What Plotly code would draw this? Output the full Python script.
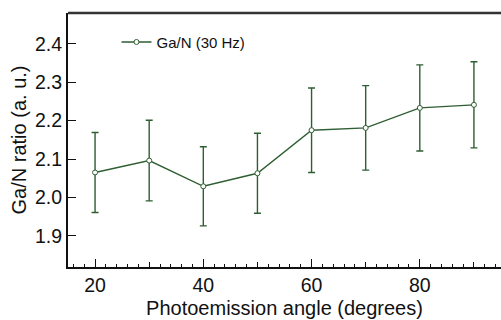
import plotly.graph_objects as go

angles = [20, 30, 40, 50, 60, 70, 80, 90]
ratio = [2.065, 2.096, 2.029, 2.063, 2.175, 2.181, 2.233, 2.241]
err = [0.104, 0.105, 0.103, 0.104, 0.110, 0.110, 0.112, 0.112]
series_name = "Ga/N (30 Hz)"
x_title = "Photoemission angle (degrees)"
y_title = "Ga/N ratio (a. u.)"
x_label_vals = [20, 40, 60, 80]
x_mid_vals = [30, 50, 70, 90]
y_tick_vals = [1.9, 2.0, 2.1, 2.2, 2.3, 2.4]

green = "#2e5e32"
font_family = "Liberation Sans, Arial, sans-serif"

fig = go.Figure()
fig.add_trace(go.Scatter(
    x=angles, y=ratio, name=series_name, mode="lines+markers",
    line=dict(color=green, width=1.4),
    marker=dict(symbol="circle", size=5, color="white", line=dict(color=green, width=1)),
    error_y=dict(type="data", array=err, visible=True, color=green, thickness=1.4, width=3.5),
))

fig.update_layout(
    width=501, height=320,
    margin=dict(l=68, r=0, t=13, b=53),
    paper_bgcolor="white", plot_bgcolor="white",
    font=dict(family=font_family, color="#111", size=19.5),
    showlegend=True,
    legend=dict(x=0.112, y=0.885, xanchor="left", yanchor="middle",
                bgcolor="rgba(0,0,0,0)", font=dict(size=15, color="#111")),
    xaxis=dict(
        range=[15, 95], showgrid=False, zeroline=False,
        showline=True, linecolor="#111", linewidth=2,
        ticks="inside", ticklen=8, tickwidth=1.2, tickcolor="#111",
        tickvals=x_label_vals, ticktext=[str(v) for v in x_label_vals],
        minor=dict(dtick=2, tick0=0, ticks="inside", ticklen=3, tickwidth=1.2, tickcolor="#111"),
        title=dict(text=x_title, standoff=6, font=dict(size=20)),
        tickfont=dict(size=19.5),
    ),
    xaxis2=dict(
        range=[15, 95], overlaying="x", side="bottom", showgrid=False, zeroline=False,
        showline=False, ticks="inside", ticklen=5, tickwidth=1.2, tickcolor="#111",
        tickvals=x_mid_vals, showticklabels=False, anchor="y",
    ),
    yaxis=dict(
        range=[1.819, 2.48], showgrid=False, zeroline=False,
        showline=True, linecolor="#111", linewidth=2,
        ticks="inside", ticklen=8, tickwidth=1.2, tickcolor="#111",
        tickvals=y_tick_vals, ticktext=[f"{v:.1f}" for v in y_tick_vals],
        title=dict(text=y_title, standoff=3, font=dict(size=20)),
        tickfont=dict(size=19.5),
    ),
    shapes=[dict(type="line", xref="paper", yref="paper", x0=0, x1=1, y0=1, y1=1,
                 line=dict(color="#333", width=2.5))],
)
# invisible trace to activate xaxis2
fig.add_trace(go.Scatter(x=[angles[0]], y=[ratio[0]], xaxis="x2", mode="markers",
                         marker=dict(opacity=0), showlegend=False, hoverinfo="skip"))

fig.write_html("out.html")
